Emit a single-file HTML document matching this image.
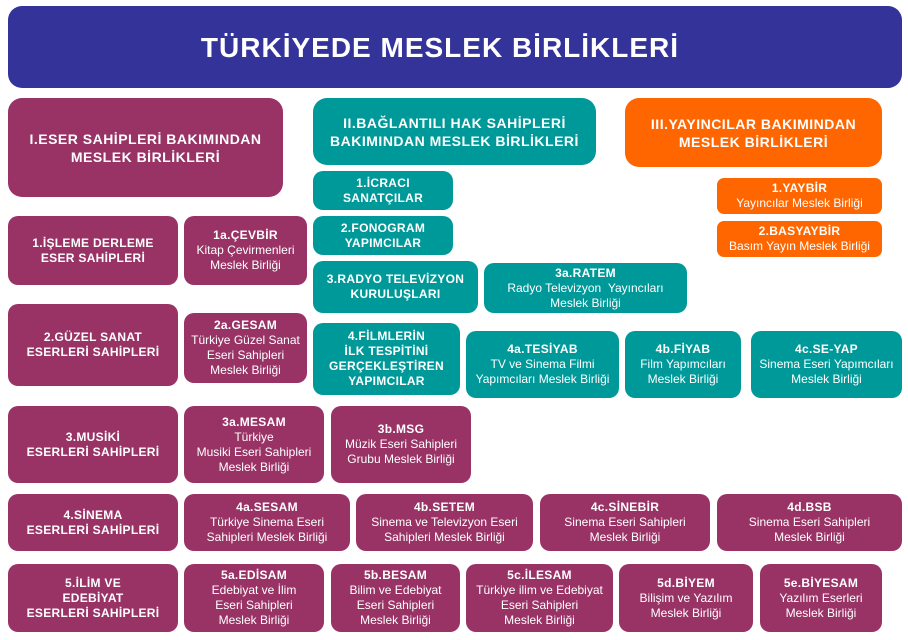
<!DOCTYPE html>
<html><head><meta charset="utf-8"><style>
body{margin:0;width:908px;height:640px;background:#fff;position:relative;overflow:hidden;font-family:"Liberation Sans",sans-serif;}
.b{position:absolute;display:flex;flex-direction:column;align-items:center;justify-content:center;text-align:center;color:#fff;border-radius:10px;font-size:12px;line-height:15px;box-sizing:border-box;padding:0 2px;}
.m{background:#993366}.t{background:#009999}.o{background:#ff6600}
.b b{font-weight:bold;letter-spacing:0.3px}
.h{font-size:14px;line-height:18px;font-weight:bold;letter-spacing:0.5px}
</style></head><body>
<div class="b" style="left:8px;top:6px;width:894px;height:82px;background:#333399;border-radius:14px;font-size:28px;font-weight:bold;letter-spacing:1px;"><span style="margin-left:-30px">TÜRKİYEDE MESLEK BİRLİKLERİ</span></div>

<div class="b m h" style="left:8px;top:98px;width:275px;height:99px;border-radius:14px">I.ESER SAHİPLERİ BAKIMINDAN<br>MESLEK BİRLİKLERİ</div>
<div class="b t h" style="left:313px;top:98px;width:283px;height:67px;border-radius:14px">II.BAĞLANTILI HAK SAHİPLERİ<br>BAKIMINDAN MESLEK BİRLİKLERİ</div>
<div class="b o h" style="left:625px;top:98px;width:257px;height:69px;border-radius:14px">III.YAYINCILAR BAKIMINDAN<br>MESLEK BİRLİKLERİ</div>

<div class="b t" style="left:313px;top:171px;width:140px;height:39px"><b>1.İCRACI<br>SANATÇILAR</b></div>
<div class="b t" style="left:313px;top:216px;width:140px;height:39px"><b>2.FONOGRAM<br>YAPIMCILAR</b></div>
<div class="b t" style="left:313px;top:261px;width:165px;height:52px"><b>3.RADYO TELEVİZYON<br>KURULUŞLARI</b></div>
<div class="b t" style="left:484px;top:263px;width:203px;height:50px"><b>3a.RATEM</b>Radyo Televizyon &nbsp;Yayıncıları<br>Meslek Birliği</div>
<div class="b t" style="left:313px;top:323px;width:147px;height:72px"><b>4.FİLMLERİN<br>İLK TESPİTİNİ<br>GERÇEKLEŞTİREN<br>YAPIMCILAR</b></div>
<div class="b t" style="left:466px;top:331px;width:153px;height:67px"><b>4a.TESİYAB</b>TV ve Sinema Filmi<br>Yapımcıları Meslek Birliği</div>
<div class="b t" style="left:625px;top:331px;width:116px;height:67px"><b>4b.FİYAB</b>Film Yapımcıları<br>Meslek Birliği</div>
<div class="b t" style="left:751px;top:331px;width:151px;height:67px"><b>4c.SE-YAP</b>Sinema Eseri Yapımcıları<br>Meslek Birliği</div>

<div class="b o" style="left:717px;top:178px;width:165px;height:36px;border-radius:7px"><b>1.YAYBİR</b>Yayıncılar Meslek Birliği</div>
<div class="b o" style="left:717px;top:221px;width:165px;height:36px;border-radius:7px"><b>2.BASYAYBİR</b>Basım Yayın Meslek Birliği</div>

<div class="b m" style="left:8px;top:216px;width:170px;height:69px"><b>1.İŞLEME DERLEME<br>ESER SAHİPLERİ</b></div>
<div class="b m" style="left:184px;top:216px;width:123px;height:69px"><b>1a.ÇEVBİR</b>Kitap Çevirmenleri<br>Meslek Birliği</div>
<div class="b m" style="left:8px;top:304px;width:170px;height:82px"><b>2.GÜZEL SANAT<br>ESERLERİ SAHİPLERİ</b></div>
<div class="b m" style="left:184px;top:313px;width:123px;height:70px"><b>2a.GESAM</b>Türkiye Güzel Sanat<br>Eseri Sahipleri<br>Meslek Birliği</div>
<div class="b m" style="left:8px;top:406px;width:170px;height:77px"><b>3.MUSİKİ<br>ESERLERİ SAHİPLERİ</b></div>
<div class="b m" style="left:184px;top:406px;width:140px;height:77px"><b>3a.MESAM</b>Türkiye<br>Musiki Eseri Sahipleri<br>Meslek Birliği</div>
<div class="b m" style="left:331px;top:406px;width:140px;height:77px"><b>3b.MSG</b>Müzik Eseri Sahipleri<br>Grubu Meslek Birliği</div>
<div class="b m" style="left:8px;top:494px;width:170px;height:57px"><b>4.SİNEMA<br>ESERLERİ SAHİPLERİ</b></div>
<div class="b m" style="left:184px;top:494px;width:166px;height:57px"><b>4a.SESAM</b>Türkiye Sinema Eseri<br>Sahipleri Meslek Birliği</div>
<div class="b m" style="left:356px;top:494px;width:177px;height:57px"><b>4b.SETEM</b>Sinema ve Televizyon Eseri<br>Sahipleri Meslek Birliği</div>
<div class="b m" style="left:540px;top:494px;width:170px;height:57px"><b>4c.SİNEBİR</b>Sinema Eseri Sahipleri<br>Meslek Birliği</div>
<div class="b m" style="left:717px;top:494px;width:185px;height:57px"><b>4d.BSB</b>Sinema Eseri Sahipleri<br>Meslek Birliği</div>
<div class="b m" style="left:8px;top:564px;width:170px;height:68px"><b>5.İLİM VE<br>EDEBİYAT<br>ESERLERİ SAHİPLERİ</b></div>
<div class="b m" style="left:184px;top:564px;width:140px;height:68px"><b>5a.EDİSAM</b>Edebiyat ve İlim<br>Eseri Sahipleri<br>Meslek Birliği</div>
<div class="b m" style="left:331px;top:564px;width:129px;height:68px"><b>5b.BESAM</b>Bilim ve Edebiyat<br>Eseri Sahipleri<br>Meslek Birliği</div>
<div class="b m" style="left:466px;top:564px;width:147px;height:68px"><b>5c.İLESAM</b>Türkiye ilim ve Edebiyat<br>Eseri Sahipleri<br>Meslek Birliği</div>
<div class="b m" style="left:619px;top:564px;width:134px;height:68px"><b>5d.BİYEM</b>Bilişim ve Yazılım<br>Meslek Birliği</div>
<div class="b m" style="left:760px;top:564px;width:122px;height:68px"><b>5e.BİYESAM</b>Yazılım Eserleri<br>Meslek Birliği</div>
</body></html>
